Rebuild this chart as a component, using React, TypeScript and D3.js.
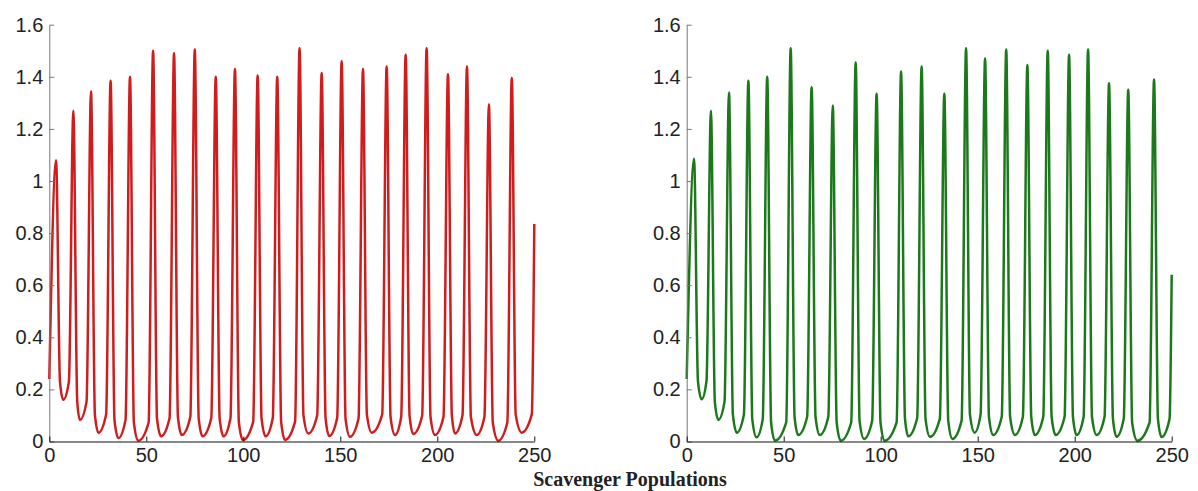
import React, { useEffect, useRef } from 'react';
import * as d3 from 'd3';

// values: peaks, troughs and the times where each spike
// meets the rounded bottom (knees, a little above the trough value)
const kneeLift = 0.07;

const redStart = [0, 0.24];
const redEnd = [250, 0.835];
const redPeakT = [3.5, 12.4, 21.5, 31.6, 41.6, 53.5, 64.3, 75.0, 85.8, 95.7, 107.4, 117.5, 129.0, 140.4, 150.7, 161.7, 173.9, 183.7, 194.5, 205.5, 215.3, 226.6, 238.4];
const redPeakV = [1.08, 1.27, 1.345, 1.385, 1.40, 1.50, 1.49, 1.505, 1.40, 1.43, 1.405, 1.40, 1.51, 1.415, 1.46, 1.43, 1.44, 1.485, 1.51, 1.41, 1.44, 1.295, 1.395];
const redFallT = [5.5, 14.4, 23.5, 33.6, 43.6, 55.5, 66.3, 77.0, 87.8, 97.7, 109.4, 119.5, 131.0, 142.4, 152.7, 163.7, 175.9, 185.7, 196.5, 207.5, 217.3, 228.6, 240.4];
const redTroughT = [7.2, 15.8, 25.3, 35.6, 45.9, 57.6, 68.3, 79.0, 89.8, 99.8, 111.5, 121.5, 133.5, 144.3, 155.0, 166.2, 178.2, 187.6, 198.8, 209.1, 220.3, 231.4, 243.5];
const redTroughV = [0.16, 0.083, 0.034, 0.013, 0.003, 0.02, 0.025, 0.02, 0.02, 0.005, 0.02, 0.006, 0.031, 0.021, 0.018, 0.034, 0.025, 0.029, 0.025, 0.031, 0.025, 0.003, 0.034];
const redRiseT = [10.1, 19.2, 29.3, 39.3, 51.2, 62.0, 72.7, 83.5, 93.4, 105.1, 115.2, 126.7, 138.1, 148.4, 159.4, 171.6, 181.4, 192.2, 203.2, 213.0, 224.3, 236.1, 248.7];

const greenStart = [0, 0.24];
const greenEnd = [250, 0.64];
const greenPeakT = [3.8, 12.5, 21.8, 31.8, 41.5, 53.6, 64.4, 75.3, 87.1, 97.9, 110.5, 121.1, 132.8, 144.0, 153.8, 164.7, 175.6, 186.1, 197.1, 206.9, 217.7, 227.6, 240.9];
const greenPeakV = [1.085, 1.27, 1.34, 1.385, 1.40, 1.51, 1.36, 1.29, 1.455, 1.335, 1.42, 1.44, 1.335, 1.51, 1.47, 1.505, 1.445, 1.50, 1.485, 1.505, 1.375, 1.35, 1.39];
const greenFallT = [5.8, 14.5, 23.8, 33.8, 43.5, 55.6, 66.4, 77.3, 89.1, 99.9, 112.5, 123.1, 134.8, 146.0, 155.8, 166.7, 177.6, 188.1, 199.1, 208.9, 219.7, 229.6, 242.9];
const greenTroughT = [7.7, 16.3, 25.8, 36.0, 45.5, 57.5, 68.6, 79.4, 91.4, 102.1, 114.2, 125.4, 137.0, 148.4, 158.0, 169.2, 179.5, 190.2, 201.0, 211.3, 221.6, 232.3, 244.8];
const greenTroughV = [0.162, 0.083, 0.034, 0.016, 0.003, 0.025, 0.025, 0.003, 0.01, 0.003, 0.02, 0.018, 0.01, 0.034, 0.025, 0.025, 0.025, 0.025, 0.025, 0.025, 0.018, 0.003, 0.017];
const greenRiseT = [10.2, 19.5, 29.5, 39.2, 51.3, 62.1, 73.0, 84.8, 95.6, 108.2, 118.8, 130.5, 141.7, 151.5, 162.4, 173.3, 183.8, 194.8, 204.6, 215.4, 225.3, 238.6, 248.9];

const xTicks = [0, 50, 100, 150, 200, 250];
const yTicks = [0, 0.2, 0.4, 0.6, 0.8, 1, 1.2, 1.4, 1.6];
const title = 'Scavenger Populations';

function buildPoints(start, end, peakT, peakV, fallT, troughT, troughV, riseT) {
    const pts = [start];
    for (let i = 0; i < peakT.length; i++) {
        if (i > 0) pts.push([riseT[i - 1], troughV[i - 1] + kneeLift]);
        pts.push([peakT[i], peakV[i]]);
        pts.push([fallT[i], troughV[i] + kneeLift]);
        pts.push([troughT[i], troughV[i]]);
    }
    const last = troughV.length - 1;
    pts.push([riseT[riseT.length - 1], troughV[last] + kneeLift]);
    pts.push(end);
    return pts;
}

function App() {
    const ref = useRef(null);

    useEffect(() => {
        const svg = d3.select(ref.current);
        svg.selectAll('*').remove();

        const y = d3.scaleLinear().domain([0, 1.6]).range([441.5, 24.7]);

        const panels = [
            { left: 49.3, right: 534.3, color: '#d01c1c',
              pts: buildPoints(redStart, redEnd, redPeakT, redPeakV, redFallT, redTroughT, redTroughV, redRiseT) },
            { left: 686.7, right: 1171.7, color: '#1b781b',
              pts: buildPoints(greenStart, greenEnd, greenPeakT, greenPeakV, greenFallT, greenTroughT, greenTroughV, greenRiseT) }
        ];

        panels.forEach(p => {
            const x = d3.scaleLinear().domain([0, 250]).range([p.left, p.right]);
            const g = svg.append('g');

            const line = d3.line()
                .x(d => x(d[0]))
                .y(d => y(d[1]))
                .curve(d3.curveMonotoneX);

            g.append('path')
                .datum(p.pts)
                .attr('d', line)
                .attr('fill', 'none')
                .attr('stroke', p.color)
                .attr('stroke-width', 2.5)
                .attr('stroke-linejoin', 'round');

            const yAxis = g.append('g')
                .attr('transform', `translate(${p.left},0)`)
                .call(d3.axisLeft(y).tickValues(yTicks).tickSizeInner(-5).tickSizeOuter(0).tickPadding(6)
                    .tickFormat(d => String(+d.toFixed(1))));
            yAxis.select('.domain').attr('stroke', '#777');
            yAxis.selectAll('.tick line').attr('stroke', '#777');
            yAxis.selectAll('.tick text')
                .attr('font-family', 'Liberation Sans, Arial, sans-serif')
                .attr('font-size', 20)
                .attr('fill', '#222');

            const xAxis = g.append('g')
                .attr('transform', `translate(0,${y(0)})`)
                .call(d3.axisBottom(x).tickValues(xTicks).tickSizeInner(-5).tickSizeOuter(0).tickPadding(6));
            xAxis.select('.domain').attr('stroke', '#111');
            xAxis.selectAll('.tick line').attr('stroke', '#111');
            xAxis.selectAll('.tick text')
                .attr('font-family', 'Liberation Sans, Arial, sans-serif')
                .attr('font-size', 20)
                .attr('fill', '#222');
        });

        svg.append('text')
            .attr('x', 630)
            .attr('y', 486)
            .attr('text-anchor', 'middle')
            .attr('font-family', 'Liberation Serif, Times New Roman, serif')
            .attr('font-weight', 'bold')
            .attr('font-size', 20)
            .attr('fill', '#222')
            .text(title);
    }, []);

    return (
        <svg ref={ref} width={1198} height={491}
            style={{ position: 'absolute', left: 0, top: 0, background: '#fff' }} />
    );
}

export default App;
